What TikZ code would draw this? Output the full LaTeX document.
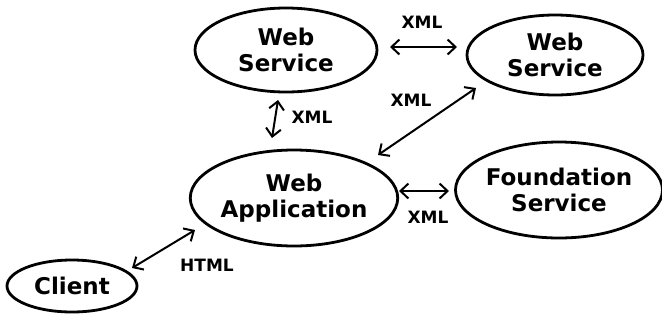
\documentclass[tikz,border=0pt]{standalone}
\usepackage{fontspec}
\setmainfont{DejaVu Sans}
\usetikzlibrary{shapes.geometric,arrows.meta}
\begin{document}
\begin{tikzpicture}[x=1pt,y=1pt,
  bubble/.style={ellipse, draw, line width=2.8pt, inner sep=0pt,
    align=center, font=\fontsize{23}{26}\selectfont\bfseries},
  conn/.style={line width=2pt, >={Straight Barb[length=8pt,width=15pt,line width=2pt]}, <->},
  tag/.style={font=\fontsize{17}{19}\selectfont\bfseries, inner sep=0pt}]
\useasboundingbox (0,0) rectangle (662,-322);

% services, application and client
\node[bubble, minimum width=182pt, minimum height=84pt] (ws1) at (286,-50) {Web\\Service};
\node[bubble, minimum width=176pt, minimum height=80pt] (ws2) at (555,-55) {Web\\Service};
\node[bubble, minimum width=203pt, minimum height=96pt] (app) at (294,-198) {Web\\Application};
\node[bubble, minimum width=202pt, minimum height=96pt] (found) at (559,-190) {Foundation\\Service};
\node[bubble, minimum width=130pt, minimum height=52pt] (client) at (72,-286) {Client};

% message links
\draw[conn] ([xshift=104pt,yshift=3pt]ws1.center) -- ([xshift=-98pt,yshift=8pt]ws2.center);
\draw[conn] ([xshift=-8pt,yshift=-50pt]ws1.center) -- ([xshift=-22pt,yshift=60pt]app.center);
\draw[conn] ([xshift=84pt,yshift=43pt]app.center) -- ([xshift=-79pt,yshift=-33pt]ws2.center);
\draw[conn] ([xshift=105pt,yshift=7pt]app.center) -- ([xshift=-110pt,yshift=-1pt]found.center);
\draw[conn] ([xshift=60pt,yshift=18pt]client.center) -- ([xshift=-99pt,yshift=-32pt]app.center);

% link labels
\node[tag] (l1) at (422,-22) {XML};
\node[tag] (l2) at (312,-117) {XML};
\node[tag] (l3) at (411,-100) {XML};
\node[tag] (l4) at (428,-217) {XML};
\node[tag] (l5) at (207,-265) {HTML};
\end{tikzpicture}
\end{document}
